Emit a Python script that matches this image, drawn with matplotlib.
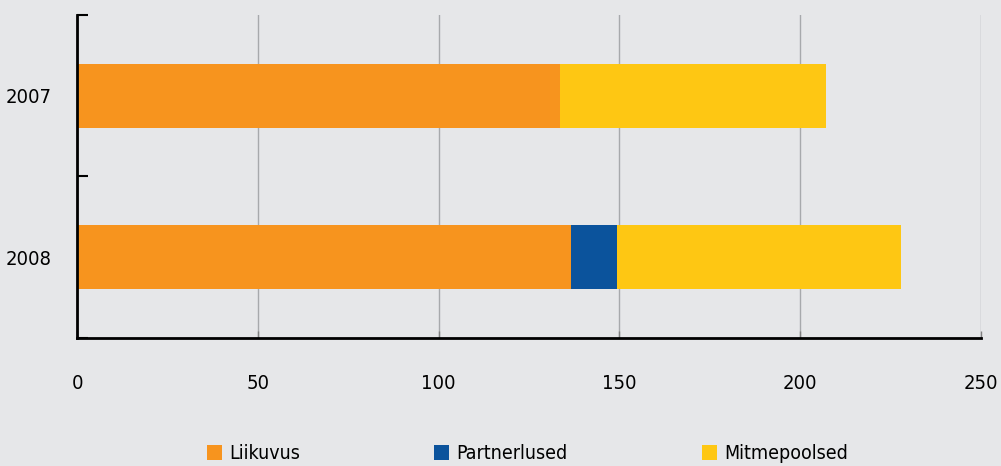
import matplotlib.pyplot as plt
from matplotlib.ticker import FixedLocator

plt.rcParams['font.family'] = ['DejaVu Sans']
plt.rcParams['font.stretch'] = 'condensed'

aastad = ['2007', '2008']
liikuvus = [133.5, 136.5]
partnerlused = [0, 12.7]
mitmepoolsed = [73.6, 78.7]
sarjad = ['Liikuvus', 'Partnerlused', 'Mitmepoolsed']
varvid = ['#F7941E', '#0B539C', '#FEC713']
xtikid = [0, 50, 100, 150, 200, 250]

taust = '#E6E7E9'
fig = plt.figure(figsize=(10.01, 4.66), dpi=100, facecolor=taust)
ax = fig.add_axes([0.077, 0.275, 0.903, 0.693], facecolor=taust)

y = list(range(len(aastad)))
vasak = [0] * len(aastad)
for nimi, vaartused, v in zip(sarjad, [liikuvus, partnerlused, mitmepoolsed], varvid):
    ax.barh(y, vaartused, left=vasak, height=0.395, color=v, label=nimi, zorder=3)
    vasak = [a + b for a, b in zip(vasak, vaartused)]

ax.set_xlim(0, 250)
ax.set_ylim(1.5, -0.5)
ax.set_xticks(xtikid)
ax.set_yticks(y)
ax.set_yticklabels(aastad)
ax.yaxis.set_minor_locator(FixedLocator([-0.5, 0.5, 1.5]))
ax.tick_params(axis='y', which='major', length=0, pad=18, labelsize=14.5)
ax.tick_params(axis='y', which='minor', direction='in', length=8, width=1.5)
ax.tick_params(axis='x', direction='in', length=5, width=1, color='#808080', pad=26, labelsize=14.5)
ax.grid(axis='x', color='#A7A9AC', linewidth=1, zorder=0)

for s in ['top', 'right']:
    ax.spines[s].set_visible(False)
for s in ['left', 'bottom']:
    ax.spines[s].set_linewidth(2)
    ax.spines[s].set_zorder(4)

fig.legend(loc='lower center', bbox_to_anchor=(0.527, -0.032), ncol=3, frameon=False,
           handlelength=0.77, handleheight=0.77, handletextpad=0.36, columnspacing=6.9, fontsize=14)

fig.savefig('out.png', dpi=100, facecolor=taust)
